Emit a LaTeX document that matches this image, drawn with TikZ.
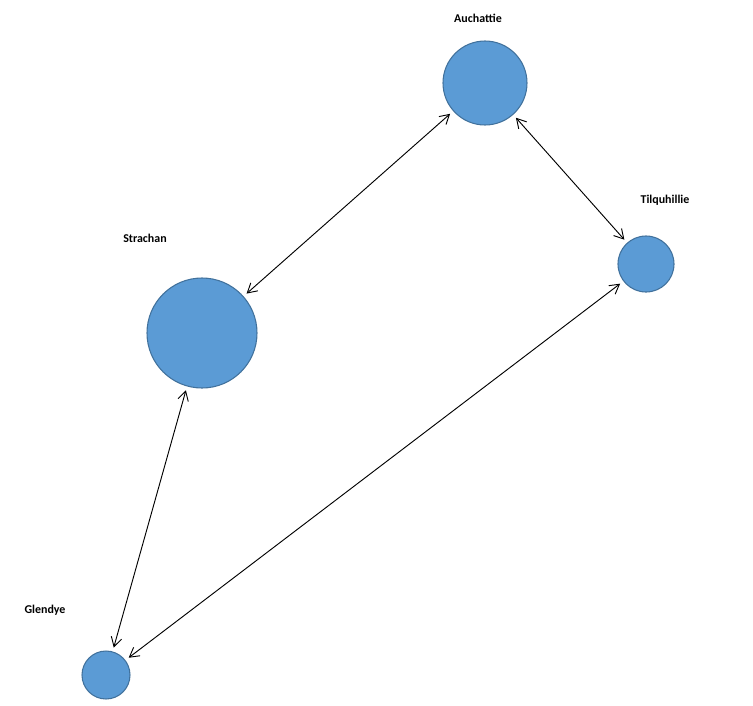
\documentclass[tikz,border=0pt]{standalone}
\usepackage{fontspec}
\setmainfont{Carlito}
\usetikzlibrary{arrows.meta}
\begin{document}
\begin{tikzpicture}[x=0.0264583cm,y=-0.0264583cm,
  town/.style={circle,draw=blue!40!black!70!cyan,fill={rgb,255:red,91;green,155;blue,213},line width=0.8pt,inner sep=0pt},
  lbl/.style={font=\bfseries\small},
  link/.style={{Straight Barb[length=7pt,width=8pt]}-{Straight Barb[length=7pt,width=8pt]},line width=0.7pt,shorten <=3pt,shorten >=3pt}]
\useasboundingbox (0,0) rectangle (753,705);
\colorlet{bd}{blue!40!black!70!cyan}
\node[town,draw={rgb,255:red,65;green,113;blue,156},minimum size=84\pgflinewidth*0+84*0.0264583cm] (a) at (485,83) {};
\node[town,draw={rgb,255:red,65;green,113;blue,156},minimum size=110*0.0264583cm] (s) at (202,333) {};
\node[town,draw={rgb,255:red,65;green,113;blue,156},minimum size=56*0.0264583cm] (t) at (646,264) {};
\node[town,draw={rgb,255:red,65;green,113;blue,156},minimum size=48*0.0264583cm] (g) at (106,675) {};
\node[lbl] (la) at (478,18) {Auchattie};
\node[lbl] (ls) at (145,238) {Strachan};
\node[lbl] (lt) at (665,200) {Tilquhillie};
\node[lbl] (lg) at (45,610) {Glendye};
\draw[link] (a) -- (s);
\draw[link] (a) -- (t);
\draw[link] (s) -- (g);
\draw[link] (t) -- (g);
\end{tikzpicture}
\end{document}
